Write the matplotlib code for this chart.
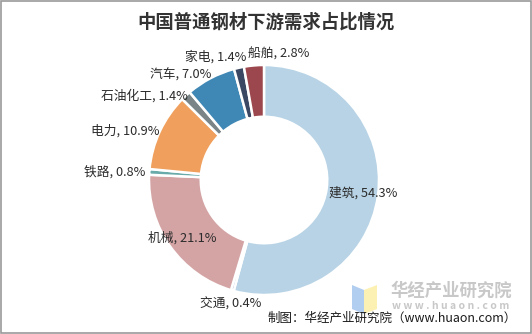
import matplotlib.pyplot as plt
import numpy as np
from matplotlib.patches import Rectangle, Polygon

plt.rcParams['font.family'] = ['Noto Sans CJK SC', 'DejaVu Sans']

# data
categories = ['建筑', '交通', '机械', '铁路', '电力', '石油化工', '汽车', '家电', '船舶']
shares = [54.3, 0.4, 21.1, 0.8, 10.9, 1.4, 7.0, 1.4, 2.8]
colors = ['#b7d3e5', '#8e9cc4', '#d4a4a5', '#69abaa', '#f0a05c',
          '#7b8587', '#3f87b4', '#3b4864', '#9c474d']

# label placement: radius factor, x shift (axes units), ha, va
label_style = [(0.87, 0.0, 'center', 'center'),
               (1.06, 0.0, 'center', 'top'),
               (0.87, 0.0, 'center', 'center'),
               (1.03, 0.0, 'right', 'center'),
               (1.0, 0.0, 'right', 'center'),
               (1.0, 0.02, 'right', 'center'),
               (1.03, 0.02, 'right', 'center'),
               (1.04, 0.07, 'right', 'bottom'),
               (1.04, -0.05, 'left', 'bottom')]

W, H = 532, 334
fig = plt.figure(figsize=(W / 100, H / 100), dpi=100)

# donut centre and radius in pixels
cx, cy, R = 264, 180, 115
ax = fig.add_axes([(cx - R) / W, (H - cy - R) / H, 2 * R / W, 2 * R / H])

wedges, _ = ax.pie(shares, colors=colors, startangle=90, counterclock=False,
                   radius=1.0, wedgeprops=dict(width=0.45, edgecolor='white', linewidth=1.8))
ax.set_xlim(-1, 1)
ax.set_ylim(-1, 1)
ax.set_aspect('equal')
ax.axis('off')

for w, name, val, (rf, dx, ha, va) in zip(wedges, categories, shares, label_style):
    ang = np.deg2rad((w.theta1 + w.theta2) / 2)
    x = rf * np.cos(ang) + dx
    y = rf * np.sin(ang)
    ax.text(x, y, f'{name}, {val:.1f}%', ha=ha, va=va, fontsize=9.2,
            color='#2b2b2b', clip_on=False)

fig.text(0.5, 1 - 22 / H, '中国普通钢材下游需求占比情况', ha='center', va='center',
         fontsize=13.2, fontweight='bold', color='#333333')

# watermark
fig.patches.append(Polygon([(352 / W, 1 - 285 / H), (364 / W, 1 - 290 / H),
                            (364 / W, 1 - 314 / H), (352 / W, 1 - 309 / H)],
                           closed=True, transform=fig.transFigure,
                           facecolor='#a9c8ee', edgecolor='none', alpha=0.9))
fig.patches.append(Polygon([(364 / W, 1 - 290 / H), (377 / W, 1 - 285 / H),
                            (377 / W, 1 - 309 / H), (364 / W, 1 - 314 / H)],
                           closed=True, transform=fig.transFigure,
                           facecolor='#fcefaa', edgecolor='none', alpha=0.9))
fig.text(451 / W, 1 - 291 / H, '华经产业研究院', ha='center', va='center',
         fontsize=12.5, fontweight='bold', color='#c8c8c8')
fig.text(451 / W, 1 - 306 / H, 'w w w . h u a o n . c o m', ha='center', va='center',
         fontsize=7.5, fontweight='bold', color='#c8c8c8')

fig.text(517 / W, 1 - 318 / H, '制图：华经产业研究院（www.huaon.com）', ha='right',
         va='center', fontsize=9, color='#1a1a1a')

fig.patches.append(Rectangle((0.001, 0.002), 0.997, 0.995, transform=fig.transFigure,
                             fill=False, edgecolor='#999999', linewidth=1.2))

fig.savefig('out.png', dpi=100)
